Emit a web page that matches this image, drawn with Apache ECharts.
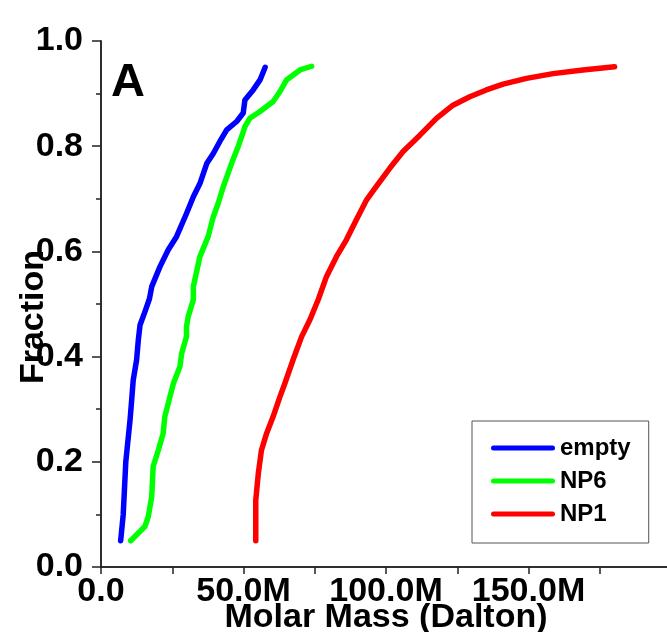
<!DOCTYPE html>
<html>
<head>
<meta charset="utf-8">
<script src="https://cdn.jsdelivr.net/npm/echarts@6/dist/echarts.min.js"></script>
<style>
html,body{margin:0;padding:0;background:#fff;}
#chart{width:667px;height:632px;}
</style>
</head>
<body>
<div id="chart"></div>
<script>
// ---- data (mass in millions of Dalton, fraction 0..1) ----
var seriesNames = ['empty', 'NP6', 'NP1'];

var emptyFraction = [0.05,0.10,0.20,0.28,0.32,0.355,0.394,0.432,0.46,0.485,0.51,0.533,0.571,0.603,0.628,0.672,0.704,0.729,0.767,0.786,0.809,0.831,0.847,0.863,0.888,0.907,0.926,0.95];
var emptyMass     = [6.9,7.8,8.7,10.2,10.8,11.3,12.5,13.1,13.7,15.4,17.0,17.8,20.7,23.6,26.5,30.0,32.4,34.7,37.1,39.4,41.7,44.1,47.6,49.9,50.5,53.4,55.8,57.6];

var np6Fraction = [0.05,0.077,0.096,0.134,0.191,0.222,0.254,0.286,0.324,0.349,0.381,0.406,0.438,0.457,0.476,0.508,0.533,0.59,0.628,0.666,0.691,0.723,0.767,0.799,0.824,0.837,0.853,0.866,0.885,0.904,0.926,0.945,0.952];
var np6Mass     = [10.4,15.4,16.6,17.8,18.3,20.1,21.8,22.4,24.2,25.4,27.7,28.3,30.0,30.0,30.6,32.4,32.4,34.7,37.6,39.4,41.1,42.9,45.8,48.1,49.7,50.5,52.2,55.8,60.4,62.8,65.1,69.8,73.9];

var np1Fraction = [0.05,0.127,0.178,0.222,0.254,0.286,0.324,0.349,0.394,0.438,0.47,0.508,0.552,0.59,0.622,0.66,0.698,0.72,0.758,0.79,0.821,0.853,0.878,0.894,0.907,0.918,0.929,0.938,0.945,0.951];
var np1Mass     = [54.3,54.3,55.2,56.3,58.1,60.4,62.8,64.5,67.4,70.4,73.3,76.2,79.1,82.6,86.1,89.6,93.2,96.1,101.3,106.0,111.9,117.7,123.5,129.4,135.2,141.1,149.3,158.6,169.1,180.2];

var xLabelValues = [0, 50, 100, 150];

function pairs(mass, frac) {
  return mass.map(function (m, i) { return [m, frac[i]]; });
}

var FONT = "'Liberation Sans', Arial, sans-serif";
var AXIS_COLOR = '#222';

var chart = echarts.init(document.getElementById('chart'), null, {renderer: 'canvas'});

function mkSeries(name, color, data) {
  return {
    name: name,
    type: 'line',
    data: data,
    symbol: 'none',
    showSymbol: false,
    smooth: false,
    lineStyle: {color: color, width: 5.5, cap: 'round', join: 'round'},
    itemStyle: {color: color},
    emphasis: {disabled: true},
    animation: false
  };
}

var option = {
  animation: false,
  backgroundColor: '#fff',
  grid: {left: 101, top: 41, right: -4, bottom: 65, containLabel: false, outerBoundsMode: 'none'},
  graphic: [{
    type: 'text',
    left: 111,
    top: 60,
    z: 10,
    style: {text: 'A', font: 'bold 47px ' + FONT, fill: '#000'}
  }],
  legend: {
    orient: 'vertical',
    left: 472,
    top: 421,
    padding: [15, 18, 17, 19],
    borderColor: '#555',
    borderWidth: 1,
    icon: 'path://M2.5,0 L61.5,0 A2.5,2.5 0 0 1 61.5,5 L2.5,5 A2.5,2.5 0 0 1 2.5,0 Z',
    itemWidth: 64,
    itemHeight: 5.5,
    itemGap: 9,
    selectedMode: false,
    textStyle: {fontSize: 24, fontWeight: 'bold', color: '#000', fontFamily: FONT},
    data: seriesNames
  },
  xAxis: [{
    type: 'value',
    min: 0,
    max: 200,
    interval: 25,
    position: 'bottom',
    name: 'Molar Mass (Dalton)',
    nameLocation: 'middle',
    nameGap: 34,
    nameMoveOverlap: false,
    nameTextStyle: {fontSize: 34, fontWeight: 'bold', color: '#000', fontFamily: FONT},
    axisLine: {show: true, lineStyle: {color: AXIS_COLOR, width: 1.5}},
    axisTick: {show: true, inside: false, length: 7, lineStyle: {color: AXIS_COLOR, width: 1.5}},
    axisLabel: {
      margin: 8,
      fontSize: 34, fontWeight: 'bold', color: '#000', fontFamily: FONT,
      hideOverlap: false,
      formatter: function (v) {
        if (xLabelValues.indexOf(v) < 0) return '';
        return v === 0 ? '0.0' : v.toFixed(1) + 'M';
      }
    },
    splitLine: {show: false}
  }, {
    type: 'value',
    min: 0,
    max: 200,
    position: 'top',
    axisLine: {show: true, lineStyle: {color: AXIS_COLOR, width: 1.5}},
    axisTick: {show: false},
    axisLabel: {show: false},
    splitLine: {show: false}
  }],
  yAxis: [{
    type: 'value',
    min: 0,
    max: 1,
    interval: 0.2,
    position: 'left',
    name: 'Fraction',
    nameLocation: 'middle',
    nameGap: 50,
    nameMoveOverlap: false,
    nameTextStyle: {fontSize: 34, fontWeight: 'bold', color: '#000', fontFamily: FONT, padding: [0, 26, 0, 0]},
    axisLine: {show: true, lineStyle: {color: AXIS_COLOR, width: 1.5}},
    axisTick: {show: true, inside: false, length: 8, lineStyle: {color: AXIS_COLOR, width: 1.5}},
    minorTick: {show: true, splitNumber: 2, length: 4, lineStyle: {color: AXIS_COLOR, width: 1.5}},
    axisLabel: {
      margin: 18,
      fontSize: 34, fontWeight: 'bold', color: '#000', fontFamily: FONT,
      formatter: function (v) { return v.toFixed(1); }
    },
    splitLine: {show: false}
  }, {
    type: 'value',
    min: 0,
    max: 1,
    interval: 0.2,
    position: 'right',
    axisLine: {show: true, lineStyle: {color: AXIS_COLOR, width: 1.5}},
    axisTick: {show: true, inside: true, length: 9, lineStyle: {color: AXIS_COLOR, width: 1.5}},
    minorTick: {show: true, splitNumber: 2, length: 5, lineStyle: {color: AXIS_COLOR, width: 1.5}},
    axisLabel: {show: false},
    splitLine: {show: false}
  }],
  series: [
    mkSeries('empty', '#0000ff', pairs(emptyMass, emptyFraction)),
    mkSeries('NP6', '#00ff00', pairs(np6Mass, np6Fraction)),
    mkSeries('NP1', '#ff0000', pairs(np1Mass, np1Fraction))
  ]
};

chart.setOption(option);
</script>
</body>
</html>
